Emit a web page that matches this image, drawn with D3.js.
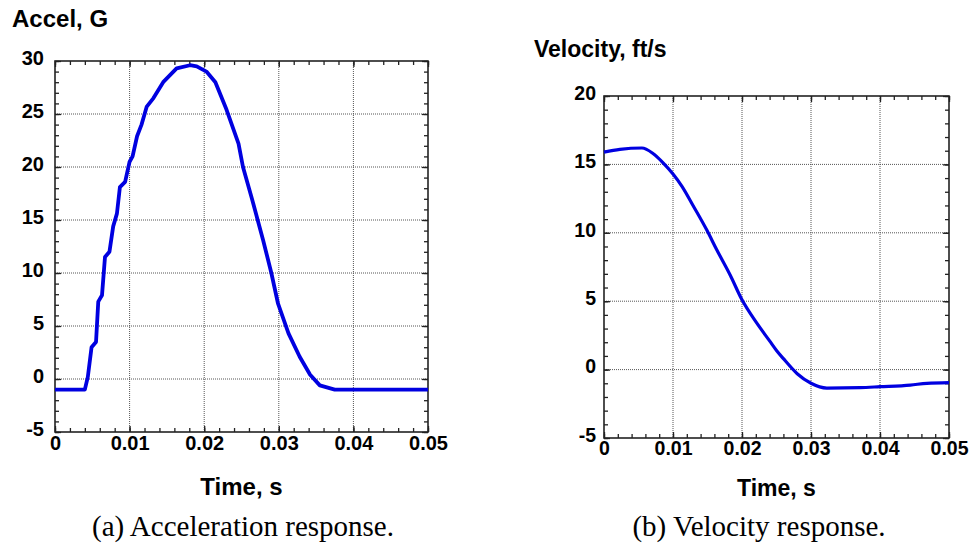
<!DOCTYPE html>
<html>
<head>
<meta charset="utf-8">
<script src="https://cdn.jsdelivr.net/npm/d3@7"></script>
<style>
  body { margin: 0; background: #fff; }
  text { font-family: "Liberation Sans", Arial, sans-serif; font-weight: bold; fill: #000; }
  .caption { font-family: "Liberation Serif", "Times New Roman", serif; font-weight: normal; }
</style>
</head>
<body>
<script>
// shared time axis
var xTicks = [0, 0.01, 0.02, 0.03, 0.04, 0.05];
var xTickLabels = ["0", "0.01", "0.02", "0.03", "0.04", "0.05"];

// (a) acceleration, G
var accelTime = [0, 0.0040, 0.0044, 0.0049, 0.0055, 0.0058, 0.0063, 0.0067, 0.0073, 0.0078,
  0.0083, 0.0087, 0.0094, 0.0100, 0.0104, 0.0110, 0.0116, 0.0123, 0.0132, 0.0145,
  0.0163, 0.0181, 0.0190, 0.0203, 0.0215, 0.0230, 0.0246, 0.0252, 0.0264, 0.0279,
  0.0290, 0.0299, 0.0313, 0.0328, 0.0342, 0.0355, 0.0375, 0.05];
var accelG = [-1.0, -1.0, 0.2, 3.0, 3.5, 7.3, 7.9, 11.5, 12.0, 14.4,
  15.6, 18.1, 18.6, 20.5, 21.0, 22.9, 24.0, 25.7, 26.5, 28.0,
  29.3, 29.6, 29.5, 29.0, 28.0, 25.4, 22.2, 20.0, 17.0, 13.1,
  10.0, 7.1, 4.3, 2.1, 0.4, -0.6, -1.0, -1.0];
var accelYTicks = [-5, 0, 5, 10, 15, 20, 25, 30];

// (b) velocity, ft/s
var velTime = [0, 0.0023, 0.0055, 0.0071, 0.0086, 0.0100, 0.0113, 0.0129, 0.0149, 0.0163,
  0.0183, 0.0200, 0.0220, 0.0240, 0.0250, 0.0260, 0.0280, 0.0300, 0.0323, 0.0371,
  0.0400, 0.0444, 0.0468, 0.05];
var velV = [15.9, 16.1, 16.2, 15.8, 15.1, 14.3, 13.4, 12.0, 10.2, 8.8,
  6.9, 5.1, 3.5, 2.1, 1.4, 0.8, -0.3, -1.0, -1.35, -1.32,
  -1.25, -1.13, -1.0, -0.95];
var velYTicks = [-5, 0, 5, 10, 15, 20];

var width = 969, height = 544;
var svg = d3.select("body").append("svg")
  .attr("width", width)
  .attr("height", height);

function drawPanel(p) {
  var x = d3.scaleLinear().domain([0, 0.05]).range([p.x0, p.x1]);
  var y = d3.scaleLinear().domain(p.yDomain).range([p.y1, p.y0]);
  var g = svg.append("g");

  // dotted grid at the major ticks
  g.selectAll(".gx").data(xTicks.slice(1, -1)).join("line")
    .attr("x1", d => x(d)).attr("x2", d => x(d))
    .attr("y1", p.y0).attr("y2", p.y1)
    .attr("stroke", "#555").attr("stroke-width", 1).attr("stroke-dasharray", "1,1");
  g.selectAll(".gy").data(p.yTicks.slice(1, -1)).join("line")
    .attr("x1", p.x0).attr("x2", p.x1)
    .attr("y1", d => y(d)).attr("y2", d => y(d))
    .attr("stroke", "#555").attr("stroke-width", 1).attr("stroke-dasharray", "1,1");

  // inward ticks on all four sides
  var xMinor = d3.range(0, 0.0501, 0.002);
  var yMinor = d3.range(p.yDomain[0], p.yDomain[1] + 0.01, 1);
  function ticks(axis, vals, size, tr) {
    var a = g.append("g").attr("transform", tr)
      .call(axis.tickValues(vals).tickSize(size).tickFormat(""));
    a.select(".domain").remove();
    a.selectAll("line").attr("stroke", "#222").attr("stroke-width", 1.3);
  }
  [[xMinor, -4], [xTicks, -6]].forEach(function (s) {
    ticks(d3.axisBottom(x), s[0], s[1], "translate(0," + p.y1 + ")");
    ticks(d3.axisTop(x), s[0], s[1], "translate(0," + p.y0 + ")");
  });
  [[yMinor, -4], [p.yTicks, -6]].forEach(function (s) {
    ticks(d3.axisLeft(y), s[0], s[1], "translate(" + p.x0 + ",0)");
    ticks(d3.axisRight(y), s[0], s[1], "translate(" + p.x1 + ",0)");
  });

  // frame
  g.append("rect")
    .attr("x", p.x0).attr("y", p.y0)
    .attr("width", p.x1 - p.x0).attr("height", p.y1 - p.y0)
    .attr("fill", "none").attr("stroke", "#222").attr("stroke-width", 1.6);

  // tick labels
  var ax = g.append("g").attr("transform", "translate(0," + p.y1 + ")")
    .call(d3.axisBottom(x).tickValues(xTicks).tickSize(0).tickPadding(p.xPad)
      .tickFormat((d, i) => xTickLabels[i]));
  ax.select(".domain").remove();
  ax.selectAll("text").attr("font-size", p.tickFont).attr("font-family", null);

  var ay = g.append("g").attr("transform", "translate(" + p.x0 + ",0)")
    .call(d3.axisLeft(y).tickValues(p.yTicks).tickSize(0).tickPadding(p.yPad)
      .tickFormat(d => String(d)));
  ay.select(".domain").remove();
  ay.selectAll("text").attr("font-size", p.tickFont).attr("font-family", null)
    .attr("y", -3);

  // titles
  g.append("text").attr("x", p.titleX).attr("y", p.titleY)
    .attr("font-size", p.titleFont).text(p.title);
  g.append("text").attr("x", (p.x0 + p.x1) / 2).attr("y", p.xTitleY)
    .attr("text-anchor", "middle").attr("font-size", p.titleFont).text("Time, s");
  g.append("text").attr("class", "caption")
    .attr("x", p.captionX).attr("y", 536)
    .attr("text-anchor", "middle").attr("font-size", 29).text(p.caption);

  // response curve
  var line = d3.line()
    .curve(p.curve)
    .x(d => x(d[0]))
    .y(d => y(d[1]));
  g.append("path")
    .datum(d3.zip(p.time, p.values))
    .attr("d", line)
    .attr("fill", "none")
    .attr("stroke", "#0000e0")
    .attr("stroke-width", p.lineWidth)
    .attr("stroke-linejoin", "round");
}

drawPanel({
  x0: 55, x1: 428, y0: 61, y1: 432,
  yDomain: [-5, 30], yTicks: accelYTicks,
  time: accelTime, values: accelG, curve: d3.curveLinear,
  title: "Accel, G", titleX: 12, titleY: 27,
  xTitleY: 495, caption: "(a) Acceleration response.", captionX: 243,
  tickFont: 20, titleFont: 24, yPad: 11, xPad: 4, lineWidth: 3.8
});

drawPanel({
  x0: 604, x1: 949, y0: 96, y1: 438,
  yDomain: [-5, 20], yTicks: velYTicks,
  time: velTime, values: velV, curve: d3.curveMonotoneX,
  title: "Velocity, ft/s", titleX: 534, titleY: 57,
  xTitleY: 496, caption: "(b) Velocity response.", captionX: 759,
  tickFont: 19.5, titleFont: 23, yPad: 8, xPad: 3, lineWidth: 3.2
});
</script>
</body>
</html>
